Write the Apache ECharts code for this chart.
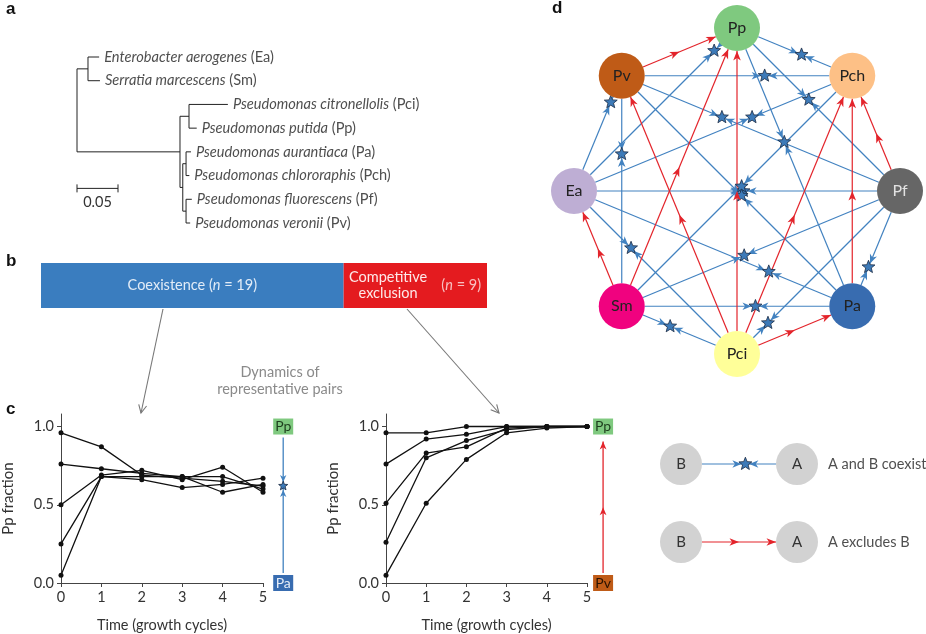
<!DOCTYPE html>
<html><head><meta charset="utf-8">
<script src="https://cdn.jsdelivr.net/npm/echarts@6.0.0/dist/echarts.min.js"></script>
<style>html,body{margin:0;padding:0;background:#fff}#main{width:926px;height:634px}</style>
</head><body><div id="main"></div>
<script>
// ---------- Panel a: phylogenetic tree ----------
const leafNames = ['Enterobacter aerogenes','Serratia marcescens','Pseudomonas citronellolis','Pseudomonas putida','Pseudomonas aurantiaca','Pseudomonas chlororaphis','Pseudomonas fluorescens','Pseudomonas veronii'];
const leafCodes = ['Ea','Sm','Pci','Pp','Pa','Pch','Pf','Pv'];
const leafDepth = [0.027,0.028,0.184,0.146,0.139,0.137,0.140,0.138];
const leafParent = ['ent','ent','cp','cp','pa','pa','pf','pf'];
const innerNames = ['root','ent','pse','cp','flu','pa','pf'];
const innerDepth = [0,0.0134,0.1256,0.1366,0.129,0.133,0.133];
const innerParent = [null,'root','root','pse','pse','flu','flu'];
const scaleBarLength = 0.05;

// ---------- Panel b: outcome counts ----------
const outcomeNames = ['Coexistence','Competitive exclusion'];
const outcomeCounts = [19, 9];

// ---------- Panel c: dynamics ----------
const timeCycles = [0,1,2,3,4,5];
const fractionTicks = [0, 0.5, 1];
const coexistPair = ['Pp','Pa'];
const coexistRuns = [
  [0.96,0.87,0.69,0.67,0.65,0.62],
  [0.76,0.73,0.70,0.68,0.68,0.60],
  [0.50,0.69,0.72,0.66,0.74,0.58],
  [0.25,0.68,0.66,0.61,0.63,0.67],
  [0.05,0.68,0.68,0.68,0.58,0.63]
];
const coexistEquilibrium = 0.62;
const exclusionPair = ['Pp','Pv'];
const exclusionRuns = [
  [0.96,0.96,1.00,1.00,1.00,1.00],
  [0.76,0.92,0.95,1.00,1.00,1.00],
  [0.51,0.83,0.87,0.99,1.00,1.00],
  [0.26,0.80,0.91,0.98,1.00,1.00],
  [0.05,0.51,0.79,0.96,0.99,1.00]
];

// ---------- Panel d: network ----------
const species = ['Pp','Pch','Pf','Pa','Pci','Sm','Ea','Pv'];
const speciesColors = ['#7fc97f','#fdc086','#666666','#386cb0','#ffff99','#f0027f','#beaed4','#bf5b17'];
// [species 1, species 2, equilibrium position along 1->2]
const coexistEdges = [
  ['Ea','Pp',0.86],['Pp','Pch',0.56],['Pv','Pch',0.62],['Pp','Pf',0.44],['Ea','Pv',0.77],
  ['Pv','Pf',0.36],['Ea','Pch',0.64],['Pp','Pa',0.41],['Sm','Pv',0.66],['Ea','Pf',0.52],
  ['Pv','Pa',0.52],['Sm','Pch',0.52],['Sm','Pf',0.44],['Ea','Pa',0.70],['Pf','Pa',0.66],
  ['Ea','Pci',0.35],['Sm','Pa',0.58],['Pci','Pf',0.19],['Sm','Pci',0.42]
];
// [excluded species, winner]
const exclusionEdges = [
  ['Pv','Pp'],['Sm','Pp'],['Pci','Pp'],['Pci','Pv'],['Pci','Pch'],
  ['Pa','Pch'],['Pf','Pch'],['Sm','Ea'],['Pci','Pa']
];
const legendNodes = ['B','A'];
const legendTexts = ['A and B coexist','A excludes B'];

// ---------- styles ----------
const FONT = 'Lato, "Open Sans", sans-serif';
const BLUE = '#4282c0', RED = '#e3242b', STARFILL = '#3d7ab8', STAREDGE = '#1b2b44';
const TXT = '#222';

// ---------- helpers ----------
function arrowHead(tip, d, len, hw, notch) {
  const px = -d[1], py = d[0];
  const bx = tip[0]-d[0]*len, by = tip[1]-d[1]*len;
  const nx = tip[0]-d[0]*(len-notch), ny = tip[1]-d[1]*(len-notch);
  return [[tip[0],tip[1]],[bx+px*hw,by+py*hw],[nx,ny],[bx-px*hw,by-py*hw]];
}
function starPoints(c, ro, ri) {
  const pts = [];
  for (let k=0;k<10;k++){const a=-Math.PI/2+k*Math.PI/5;const r=k%2?ri:ro;pts.push([c[0]+r*Math.cos(a),c[1]+r*Math.sin(a)]);}
  return pts;
}
function poly(points, fill){return {type:'polygon', shape:{points}, style:{fill}};}
function star(c, ro){return {type:'polygon', shape:{points:starPoints(c,ro,ro*0.43)}, style:{fill:STARFILL, stroke:STAREDGE, lineWidth:0.8}};}

// tree geometry
const X = {}, Y = {}, kids = {}, parentOf = {};
leafCodes.forEach((c,i)=>{X[c]=leafDepth[i];Y[c]=i;(kids[leafParent[i]] ||= []).push(c);parentOf[c]=leafParent[i];});
innerNames.forEach((n,i)=>{X[n]=innerDepth[i];if(innerParent[i]){(kids[innerParent[i]] ||= []).push(n);parentOf[n]=innerParent[i];}});
for (let i=innerNames.length-1;i>=0;i--){const n=innerNames[i];const ys=kids[n].map(k=>Y[k]);Y[n]=(Math.min(...ys)+Math.max(...ys))/2;}
const treeSegments = [];
Object.keys(parentOf).forEach(n=>treeSegments.push([X[parentOf[n]],Y[n],X[n],Y[n]]));
innerNames.forEach(n=>{const ys=kids[n].map(k=>Y[k]);treeSegments.push([X[n],Math.min(...ys),X[n],Math.max(...ys)]);});

// network geometry
const pos = {};
species.forEach((s,i)=>{const a=Math.PI/2-i*Math.PI/4;pos[s]=[Math.cos(a),Math.sin(a)];});
const edgeData = coexistEdges.map(([a,b,t])=>[...pos[a],...pos[b],t,0])
  .concat(exclusionEdges.map(([a,b])=>[...pos[a],...pos[b],0,1]));
const legendEdgeData = [[0,0,1,0,0.555,0],[0,1,1,1,0,1]];

function makeEdgeRender(R, layer) {
  return function(params, api) {
    const p1 = api.coord([api.value(0), api.value(1)]);
    const p2 = api.coord([api.value(2), api.value(3)]);
    const t = api.value(4), kind = api.value(5);
    const dx=p2[0]-p1[0], dy=p2[1]-p1[1], L=Math.hypot(dx,dy), u=[dx/L,dy/L];
    const s=[p1[0]+u[0]*R,p1[1]+u[1]*R], e=[p2[0]-u[0]*R,p2[1]-u[1]*R];
    const col = kind===1?RED:BLUE;
    if (layer==='line') return {type:'line', shape:{x1:s[0],y1:s[1],x2:e[0],y2:e[1]}, style:{stroke:col,lineWidth:1.2}};
    const ch=[];
    if (kind===1) {
      const m=[(s[0]+e[0])/2,(s[1]+e[1])/2];
      ch.push(poly(arrowHead(m,u,9.5,3.8,2.6),col));
      ch.push(poly(arrowHead(e,u,9.5,3.8,2.6),col));
    } else {
      const c=[p1[0]+dx*t,p1[1]+dy*t];
      ch.push(poly(arrowHead([c[0]-u[0]*4,c[1]-u[1]*4],u,9,3.8,2.6),col));
      ch.push(poly(arrowHead([c[0]+u[0]*4,c[1]+u[1]*4],[-u[0],-u[1]],9,3.8,2.6),col));
      ch.push(star(c,6.8));
    }
    return {type:'group', children:ch};
  };
}

function sideRender(topName, botName, topColor, botColor, topText, botText, mode) {
  return function(params, api) {
    const x = api.value(0);
    const top = api.coord([x, api.value(1)]), bot = api.coord([x, api.value(2)]);
    const ch = [];
    const box = (c, fill, name, tc) => {
      ch.push({type:'rect', shape:{x:c[0]-10,y:c[1]-8,width:20,height:16}, style:{fill}});
      ch.push({type:'text', style:{x:c[0],y:c[1],text:name,fill:tc,font:'14px '+FONT,align:'center',verticalAlign:'middle'}});
    };
    const y1 = top[1]+11, y2 = bot[1]-10;
    if (mode==='coexist') {
      const eq = api.coord([x, api.value(3)]);
      ch.push({type:'line', shape:{x1:top[0],y1:y1,x2:top[0],y2:y2}, style:{stroke:BLUE,lineWidth:1.3}});
      ch.push(poly(arrowHead([top[0],eq[1]-4],[0,1],7,3.2,2),BLUE));
      ch.push(poly(arrowHead([top[0],eq[1]+4],[0,-1],7,3.2,2),BLUE));
      ch.push(star(eq,4.8));
    } else {
      const tipTop = top[1]+15;
      ch.push({type:'line', shape:{x1:top[0],y1:tipTop,x2:top[0],y2:y2}, style:{stroke:RED,lineWidth:1.3}});
      ch.push(poly(arrowHead([top[0],tipTop],[0,-1],8,3.4,2.3),RED));
      ch.push(poly(arrowHead([top[0],(tipTop+y2)/2],[0,-1],8,3.4,2.3),RED));
    }
    box(top, topColor, topName, topText);
    box(bot, botColor, botName, botText);
    return {type:'group', children:ch};
  };
}

const hidden = (gi, min, max, extra) => Object.assign({gridIndex:gi, type:'value', min, max, show:false}, extra||{});
const axisText = {fontFamily:FONT, fontSize:14.5, color:'#333'};
function cXAxis(gi){return {gridIndex:gi,type:'value',min:0,max:5,interval:1,
  axisLine:{show:true,lineStyle:{color:'#444',width:1}},axisTick:{show:true,length:4,lineStyle:{color:'#444'}},
  axisLabel:Object.assign({margin:7},axisText),splitLine:{show:false},
  name:'Time (growth cycles)',nameLocation:'middle',nameGap:35,nameTextStyle:axisText};}
function cYAxis(gi){return {gridIndex:gi,type:'value',min:0,max:1.08,
  axisLine:{show:true,lineStyle:{color:'#444',width:1}},axisTick:{show:true,length:4,customValues:fractionTicks,lineStyle:{color:'#444'}},
  axisLabel:Object.assign({margin:7,customValues:fractionTicks,formatter:v=>v.toFixed(1)},axisText),splitLine:{show:false},
  name:'Pp fraction',nameLocation:'middle',nameGap:45,nameTextStyle:Object.assign({},axisText,{fontSize:15})};}
function runSeries(runs, gi){return runs.map(r=>({type:'line',xAxisIndex:gi,yAxisIndex:gi,
  data:timeCycles.map((t,i)=>[t,r[i]]),symbol:'circle',symbolSize:5,showSymbol:true,
  lineStyle:{color:'#111',width:1.3},itemStyle:{color:'#111'},silent:true,z:3,animation:false}));}

const total = outcomeCounts.reduce((a,b)=>a+b,0);

const option = {
  animation:false,
  backgroundColor:'#fff',
  grid:[
    {left:77,top:57,width:164,height:166},
    {left:41,top:263,width:446,height:45},
    {left:61,top:414,width:202,height:170},
    {left:386,top:414,width:201,height:170},
    {left:557.7,top:11.7,width:358.6,height:358.6},
    {left:681,top:464,width:116,height:78}
  ],
  xAxis:[
    hidden(0,0,0.2),
    hidden(1,0,total),
    cXAxis(2), cXAxis(3),
    hidden(4,-1.1,1.1),
    hidden(5,0,1)
  ],
  yAxis:[
    hidden(0,0,7,{inverse:true}),
    {gridIndex:1,type:'category',data:['pairs'],show:false},
    cYAxis(2), cYAxis(3),
    hidden(4,-1.1,1.1),
    hidden(5,0,1,{inverse:true})
  ],
  series:[
    // tree
    {type:'custom',xAxisIndex:0,yAxisIndex:0,clip:false,silent:true,data:treeSegments,encode:{x:[0,2],y:[1,3]},
      renderItem:(p,api)=>{const a=api.coord([api.value(0),api.value(1)]),b=api.coord([api.value(2),api.value(3)]);
        return {type:'line',shape:{x1:a[0],y1:a[1],x2:b[0],y2:b[1]},style:{stroke:'#222',lineWidth:1}};}},
    {type:'scatter',xAxisIndex:0,yAxisIndex:0,symbolSize:0,silent:true,data:leafDepth.map((d,i)=>[d,i]),
      label:{show:true,position:'right',distance:5,fontFamily:FONT,fontSize:14.6,color:TXT,
        formatter:p=>'{i|'+leafNames[p.dataIndex]+'} ('+leafCodes[p.dataIndex]+')',
        rich:{i:{fontStyle:'italic',fontFamily:FONT,fontSize:14.6,color:TXT}}}},
    {type:'custom',xAxisIndex:0,yAxisIndex:0,clip:false,silent:true,data:[[0,5.54,scaleBarLength]],
      renderItem:(p,api)=>{const a=api.coord([api.value(0),api.value(1)]),b=api.coord([api.value(2),api.value(1)]);
        return {type:'group',children:[
          {type:'line',shape:{x1:a[0],y1:a[1],x2:b[0],y2:b[1]},style:{stroke:'#222',lineWidth:1}},
          {type:'line',shape:{x1:a[0],y1:a[1]-4,x2:a[0],y2:a[1]+4},style:{stroke:'#222',lineWidth:1}},
          {type:'line',shape:{x1:b[0],y1:b[1]-4,x2:b[0],y2:b[1]+4},style:{stroke:'#222',lineWidth:1}},
          {type:'text',style:{x:(a[0]+b[0])/2,y:a[1]+14,text:String(api.value(2)),font:'14.5px '+FONT,fill:'#333',align:'center',verticalAlign:'middle'}}
        ]};}},
    // bar
    {type:'bar',xAxisIndex:1,yAxisIndex:1,stack:'all',barWidth:'100%',silent:true,data:[outcomeCounts[0]],
      itemStyle:{color:'#3a7dbf'},
      label:{show:true,position:'inside',fontFamily:FONT,fontSize:14.5,color:'#e2ecf7',
        formatter:p=>outcomeNames[0]+' ({i|n} = '+p.value+')',rich:{i:{fontStyle:'italic',fontFamily:FONT,fontSize:14.5,color:'#e2ecf7'}}}},
    {type:'bar',xAxisIndex:1,yAxisIndex:1,stack:'all',barWidth:'100%',silent:true,data:[outcomeCounts[1]],
      itemStyle:{color:'#e41b1f'},
      label:{show:true,position:['31%','50%'],align:'center',verticalAlign:'middle',lineHeight:16,fontFamily:FONT,fontSize:14.5,color:'#fde9e9',
        formatter:()=>outcomeNames[1].replace(' ','\n')}},
    {type:'scatter',xAxisIndex:1,yAxisIndex:1,symbolSize:0,silent:true,data:[[outcomeCounts[0]+outcomeCounts[1]*0.82,0,outcomeCounts[1]]],
      label:{show:true,position:[0,0],align:'center',verticalAlign:'middle',fontFamily:FONT,fontSize:14.5,color:'#fde9e9',
        formatter:p=>'({i|n} = '+p.value[2]+')',rich:{i:{fontStyle:'italic',fontFamily:FONT,fontSize:14.5,color:'#fde9e9'}}}},
    // panel c
    ...runSeries(coexistRuns,2),
    ...runSeries(exclusionRuns,3),
    {type:'custom',xAxisIndex:2,yAxisIndex:2,clip:false,silent:true,data:[[5.5,1,0,coexistEquilibrium]],
      renderItem:sideRender(coexistPair[0],coexistPair[1],speciesColors[species.indexOf('Pp')],speciesColors[species.indexOf('Pa')],'#1d3d1d','#e6edf7','coexist')},
    {type:'custom',xAxisIndex:3,yAxisIndex:3,clip:false,silent:true,data:[[5.4,1,0,1]],
      renderItem:sideRender(exclusionPair[0],exclusionPair[1],speciesColors[species.indexOf('Pp')],speciesColors[species.indexOf('Pv')],'#1d3d1d','#2a1200','exclude')},
    // network
    {type:'custom',xAxisIndex:4,yAxisIndex:4,clip:false,silent:true,data:edgeData,z:2,renderItem:makeEdgeRender(23,'line')},
    {type:'custom',xAxisIndex:4,yAxisIndex:4,clip:false,silent:true,data:edgeData,z:3,renderItem:makeEdgeRender(23,'deco')},
    {type:'scatter',xAxisIndex:4,yAxisIndex:4,symbolSize:46,silent:true,z:5,
      data:species.map((s,i)=>({value:[pos[s][0],pos[s][1]],name:s,itemStyle:{color:speciesColors[i],opacity:1},
        label:{color:s==='Pf'?'#e2e2e2':TXT}})),
      itemStyle:{opacity:1},
      label:{show:true,position:'inside',formatter:p=>p.name,fontFamily:FONT,fontSize:16}},
    // legend
    {type:'custom',xAxisIndex:5,yAxisIndex:5,clip:false,silent:true,data:legendEdgeData,z:2,renderItem:makeEdgeRender(21,'line')},
    {type:'custom',xAxisIndex:5,yAxisIndex:5,clip:false,silent:true,data:legendEdgeData,z:3,renderItem:makeEdgeRender(21,'deco')},
    {type:'scatter',xAxisIndex:5,yAxisIndex:5,symbolSize:42,silent:true,z:5,
      data:[[0,0],[1,0],[0,1],[1,1]].map(d=>({value:[d[0],d[1]],name:legendNodes[d[0]]})),
      itemStyle:{color:'#d2d2d2',opacity:1},
      label:{show:true,position:'inside',formatter:p=>p.name,fontFamily:FONT,fontSize:15,color:'#333'}},
    {type:'scatter',xAxisIndex:5,yAxisIndex:5,symbolSize:0,silent:true,data:[[1,0],[1,1]],
      label:{show:true,position:'right',distance:31,formatter:p=>legendTexts[p.dataIndex],fontFamily:FONT,fontSize:14.5,color:TXT}}
  ],
  graphic:[]
};

// annotation graphics: panel letters, connector arrows, caption
function connector(x1,y1,x2,y2){
  const L=Math.hypot(x2-x1,y2-y1), d=[(x2-x1)/L,(y2-y1)/L], p=[-d[1],d[0]];
  const bx=x2-d[0]*8, by=y2-d[1]*8;
  return [
    {type:'line',shape:{x1,y1,x2,y2},style:{stroke:'#777',lineWidth:1.1}},
    {type:'polyline',shape:{points:[[bx+p[0]*4,by+p[1]*4],[x2,y2],[bx-p[0]*4,by-p[1]*4]]},style:{stroke:'#777',lineWidth:1.1,fill:null}}
  ];
}
const letterFont = 'bold 17px "Liberation Sans", Arial, sans-serif';
option.graphic = [
  {type:'text',left:6,top:1,style:{text:'a',font:letterFont,fill:'#111'}},
  {type:'text',left:6,top:253,style:{text:'b',font:letterFont,fill:'#111'}},
  {type:'text',left:6,top:401,style:{text:'c',font:letterFont,fill:'#111'}},
  {type:'text',left:552,top:0,style:{text:'d',font:letterFont,fill:'#111'}},
  {type:'text',x:280,y:364,style:{text:'Dynamics of\nrepresentative pairs',font:'14.5px '+FONT,fill:'#8a8a8a',align:'center',lineHeight:17}},
  ...connector(163,309,141,413),
  ...connector(407,309,499,413)
];

const chart = echarts.init(document.getElementById('main'));
chart.setOption(option);
</script>
</body></html>
